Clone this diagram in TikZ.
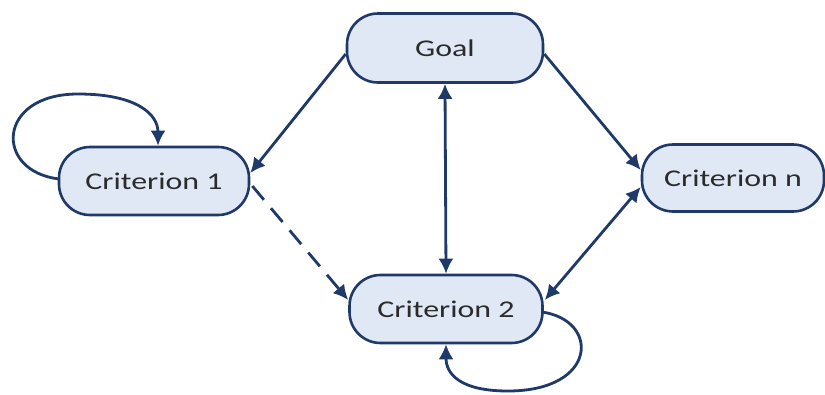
\documentclass[tikz,border=0pt]{standalone}
\usepackage{fontspec}
\setmainfont[FakeStretch=1.33]{Carlito}
\usetikzlibrary{arrows.meta,calc}
\definecolor{navy}{HTML}{1F3A68}
\definecolor{boxfill}{HTML}{DFE8F4}
\definecolor{txt}{HTML}{2B2B2B}
\tikzset{
  statebox/.style={draw=navy, fill=boxfill, line width=2.6pt, rounded corners=31pt,
    inner sep=0pt, text=txt, font=\fontsize{24}{26}\selectfont},
  conn/.style={draw=navy, line width=2.8pt},
  tip/.style={-{Latex[length=15pt,width=15pt]}},
  tips/.style={{Latex[length=15pt,width=15pt]}-{Latex[length=15pt,width=15pt]}},
}
\begin{document}
\begin{tikzpicture}[x=1pt,y=-1pt]
\useasboundingbox (0,0) rectangle (825,394);
\node[statebox, minimum width=196pt, minimum height=69pt] (goal) at (445,48) {Goal};
\node[statebox, minimum width=190pt, minimum height=68pt] (c1) at (154,181) {Criterion 1};
\node[statebox, minimum width=193pt, minimum height=68pt] (c2) at (446,309) {Criterion 2};
\node[statebox, minimum width=182pt, minimum height=67pt] (cn) at (733,178) {Criterion n};
% connectors
\draw[conn,tip] ($(goal.west)+(0,6)$) -- ($(c1.east)+(0,-8)$);
\draw[conn,tips] (goal.south) -- (c2.north);
\draw[conn,tip] ($(goal.east)+(0,6)$) -- ($(cn.west)+(0,-8)$);
\draw[conn,tips] ($(c2.east)+(1,-9)$) -- ($(cn.west)+(0,9)$);
\draw[conn,tip,dashed,dash pattern=on 18pt off 11pt] ($(c1.east)+(2,5)$) -- ($(c2.west)+(0,-9)$);
% self loops
\coordinate (l1a) at ($(c1.west)+(2,-2)$);
\coordinate (l1b) at ($(c1.north)+(4,0)$);
\draw[conn,tip] (l1a) .. controls (-6,172) and (-4,94) .. (78,94)
  .. controls (138,94) and (158,115) .. (l1b);
\coordinate (l2a) at ($(c2.east)+(-2,3)$);
\coordinate (l2b) at (c2.south);
\draw[conn,tip] (l2a) .. controls (600,320) and (598,391) .. (508,391)
  .. controls (460,391) and (446,374) .. (l2b);
\end{tikzpicture}
\end{document}
